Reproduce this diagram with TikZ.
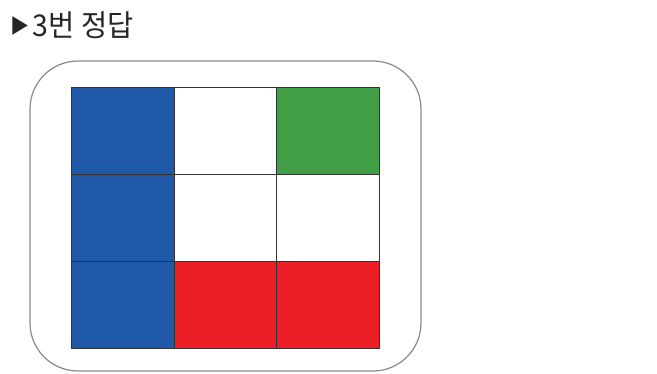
\documentclass[tikz,border=0pt]{standalone}
\usepackage{fontspec}
\newfontfamily\kr{Noto Sans CJK KR}
\definecolor{cblue}{HTML}{1F59A7}
\definecolor{cgreen}{HTML}{41A046}
\definecolor{cred}{HTML}{EC1F27}
\definecolor{cframe}{HTML}{8A8A8A}
\begin{document}
\begin{tikzpicture}[x=1pt,y=-1pt,
  cell/.style={draw=black!80,line width=0.8pt},
  frame/.style={draw=cframe,line width=1.2pt,rounded corners=48pt}]
\useasboundingbox (0,0) rectangle (657,373);
\node[anchor=base west,inner sep=0pt,xscale=0.95,font=\kr\fontsize{30}{34}\selectfont,text=black!85] (title) at (10,36) {\raisebox{3pt}{\fontsize{20}{24}\selectfont▶}\hspace{4pt}3번 정답};
\draw[frame] (30,61) rectangle (421,371);
% row 1
\draw[cell,fill=cblue] (71,87) rectangle (174,174);
\draw[cell,fill=white] (174,87) rectangle (276,174);
\draw[cell,fill=cgreen] (276,87) rectangle (379,174);
% row 2
\draw[cell,fill=cblue] (71,174) rectangle (174,261);
\draw[cell,fill=white] (174,174) rectangle (276,261);
\draw[cell,fill=white] (276,174) rectangle (379,261);
% row 3
\draw[cell,fill=cblue] (71,261) rectangle (174,348);
\draw[cell,fill=cred] (174,261) rectangle (276,348);
\draw[cell,fill=cred] (276,261) rectangle (379,348);
\end{tikzpicture}
\end{document}
